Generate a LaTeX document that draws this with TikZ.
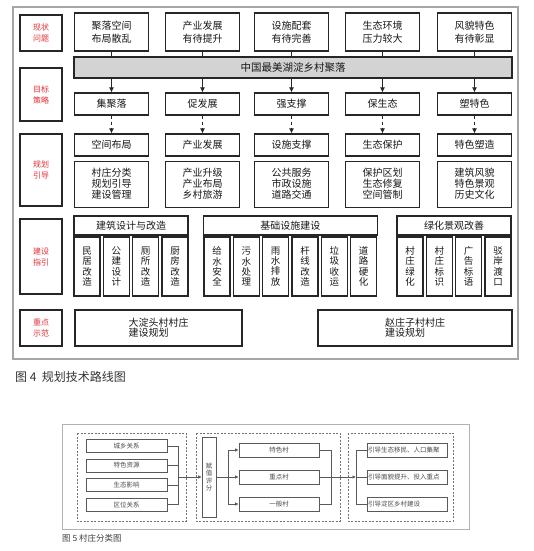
\documentclass[tikz,border=0pt]{standalone}
\usepackage{fontspec}
\setmainfont{Noto Sans CJK SC}
\usetikzlibrary{arrows.meta, positioning}
\definecolor{labelred}{HTML}{E5303A}
\definecolor{bargray}{HTML}{D3D3D3}
\definecolor{framegray}{HTML}{A6A6A6}

\begin{document}
\begin{tikzpicture}[
x=1pt, y=-1pt,
box/.style={
rectangle,
draw=black!85,
line width=1.1pt,
minimum width=74pt,
align=center,
inner sep=1pt,
text=black!90,
font=\fontsize{10}{11}\selectfont
},
lab/.style={
box,
minimum width=42pt,
text=labelred,
font=\fontsize{8}{11}\selectfont
},
prob/.style={box, minimum height=38pt, font=\fontsize{10}{13}\selectfont},
goal/.style={box, minimum height=22pt},
content/.style={box, minimum height=46pt},
group/.style={box, minimum height=19pt},
vbox/.style={box, minimum width=26pt, minimum height=59pt, font=\fontsize{9.5}{10.3}\selectfont},
demo/.style={box, minimum height=36pt, align=left, font=\fontsize{10}{9.8}\selectfont},
conn/.style={draw=black!85, line width=1.1pt},
arrow/.style={-{Latex[length=5pt,width=5pt]}, conn},
dasharrow/.style={arrow, dashed},
sbox/.style={
rectangle,
draw=black!65,
line width=0.7pt,
minimum width=80pt,
minimum height=14pt,
inner sep=1pt,
align=center,
text=black!70,
font=\fontsize{6.5}{7.5}\selectfont
},
sconn/.style={draw=black!65, line width=0.7pt},
sarrow/.style={-{Latex[length=3.5pt,width=3.5pt]}, sconn},
dgroup/.style={draw=black!55, line width=0.7pt, dash pattern=on 2pt off 1.5pt}
]
\useasboundingbox [fill=white] (0,0) rectangle (533,551);

% figure 4
\draw [framegray, line width=1.5pt] (13,7) rectangle (518,359);

\node (l1) [lab, minimum height=36pt] at (41,33) {现状\\问题};
\node (l2) [lab, minimum height=53pt] at (41,94.5) {目标\\策略};
\node (l3) [lab, minimum height=72pt] at (41,170) {规划\\引导};
\node (l4) [lab, minimum height=75pt] at (41,256.5) {建设\\指引};
\node (l5) [lab, minimum height=36pt] at (41,328) {重点\\示范};

\node (p1) [prob] at (111.5,32) {聚落空间\\布局散乱};
\node (p2) [prob] at (202.5,32) {产业发展\\有待提升};
\node (p3) [prob] at (291.5,32) {设施配套\\有待完善};
\node (p4) [prob] at (382.5,32) {生态环境\\压力较大};
\node (p5) [prob] at (474.5,32) {风貌特色\\有待彰显};

\node (bar) [box, fill=bargray, minimum width=438pt, minimum height=21pt,
font=\fontsize{10.5}{12}\selectfont] at (293,67.5) {中国最美湖淀乡村聚落};

\node (g1) [goal] at (111.5,104) {集聚落};
\node (g2) [goal] at (202.5,104) {促发展};
\node (g3) [goal] at (291.5,104) {强支撑};
\node (g4) [goal] at (382.5,104) {保生态};
\node (g5) [goal] at (474.5,104) {塑特色};

\node (h1) [goal] at (111.5,145) {空间布局};
\node (h2) [goal] at (202.5,145) {产业发展};
\node (h3) [goal] at (291.5,145) {设施支撑};
\node (h4) [goal] at (382.5,145) {生态保护};
\node (h5) [goal] at (474.5,145) {特色塑造};

\node (c1) [content, below=4pt of h1] {村庄分类\\规划引导\\建设管理};
\node (c2) [content, below=4pt of h2] {产业升级\\产业布局\\乡村旅游};
\node (c3) [content, below=4pt of h3] {公共服务\\市政设施\\道路交通};
\node (c4) [content, below=4pt of h4] {保护区划\\生态修复\\空间管制};
\node (c5) [content, below=4pt of h5] {建筑风貌\\特色景观\\历史文化};

\node (s1) [group, minimum width=114pt] at (131,225.5) {建筑设计与改造};
\node (s2) [group, minimum width=173.5pt] at (290.3,225.5) {基础设施建设};
\node (s3) [group, minimum width=114pt] at (454,225.5) {绿化景观改善};

\node (v1) [vbox] at (87,266.5) {民\\居\\改\\造};
\node (v2) [vbox] at (116.3,266.5) {公\\建\\设\\计};
\node (v3) [vbox] at (145.6,266.5) {厕\\所\\改\\造};
\node (v4) [vbox] at (175,266.5) {厨\\房\\改\\造};
\node (v5) [vbox] at (217,266.5) {给\\水\\安\\全};
\node (v6) [vbox] at (246.3,266.5) {污\\水\\处\\理};
\node (v7) [vbox] at (275.6,266.5) {雨\\水\\排\\放};
\node (v8) [vbox] at (305,266.5) {杆\\线\\改\\造};
\node (v9) [vbox] at (334.3,266.5) {垃\\圾\\收\\运};
\node (v10) [vbox] at (363.6,266.5) {道\\路\\硬\\化};
\node (v11) [vbox] at (410,266.5) {村\\庄\\绿\\化};
\node (v12) [vbox] at (439.3,266.5) {村\\庄\\标\\识};
\node (v13) [vbox] at (468.6,266.5) {广\\告\\标\\语};
\node (v14) [vbox] at (498,266.5) {驳\\岸\\渡\\口};

\node (d1) [demo, minimum width=167pt] at (158.5,328) {大淀头村村庄\\建设规划};
\node (d2) [demo, minimum width=194pt] at (415,328) {赵庄子村村庄\\建设规划};

\draw [conn] (p1) -- (p1 |- bar.north);
\draw [conn] (p2) -- (p2 |- bar.north);
\draw [conn] (p3) -- (p3 |- bar.north);
\draw [conn] (p4) -- (p4 |- bar.north);
\draw [conn] (p5) -- (p5 |- bar.north);

\draw [arrow] (g1 |- bar.south) -- (g1);
\draw [arrow] (g2 |- bar.south) -- (g2);
\draw [arrow] (g3 |- bar.south) -- (g3);
\draw [arrow] (g4 |- bar.south) -- (g4);
\draw [arrow] (g5 |- bar.south) -- (g5);

\draw [dasharrow] (g1) -- (h1);
\draw [dasharrow] (g2) -- (h2);
\draw [dasharrow] (g3) -- (h3);
\draw [dasharrow] (g4) -- (h4);
\draw [dasharrow] (g5) -- (h5);

\node (cap4) [anchor=west, inner sep=0pt, text=black!80,
font=\fontsize{12}{14}\selectfont] at (15,377) {图 4\ \ 规划技术路线图};

% figure 5
\draw [black!30, line width=1pt] (62,424) rectangle (469,529);
\draw [dgroup] (77,433) rectangle (186,521);
\draw [dgroup] (196,433) rectangle (340,521);
\draw [dgroup] (348,433) rectangle (453,521);

\node (f1) [sbox, minimum width=81pt, minimum height=13pt] at (126.5,446) {城乡关系};
\node (f2) [sbox, minimum width=81pt, minimum height=13pt] at (126.5,465.5) {特色资源};
\node (f3) [sbox, minimum width=81pt, minimum height=13pt] at (126.5,485) {生态影响};
\node (f4) [sbox, minimum width=81pt, minimum height=13pt] at (126.5,504.5) {区位关系};

\node (score) [sbox, minimum width=14pt, minimum height=80pt,
font=\fontsize{6.5}{7.6}\selectfont] at (209,477) {赋\\值\\评\\分};

\node (t1) [sbox] at (279,450) {特色村};
\node (t2) [sbox] at (279,477) {重点村};
\node (t3) [sbox] at (279,504) {一般村};

\node (r1) [sbox, text width=78pt, align=left] at (407,450) {引导生态移民、人口集聚};
\node (r2) [sbox, text width=78pt, align=left] at (407,477) {引导面貌提升、投入重点};
\node (r3) [sbox, text width=78pt, align=left] at (407,504) {引导淀区乡村建设};

\coordinate (j1) at (178,477);
\coordinate (j2) at (228,477);
\coordinate (j3) at (331,477);
\coordinate (j4) at (356,477);

\draw [sconn] (f1) -| (j1);
\draw [sconn] (f2) -| (j1);
\draw [sconn] (f3) -| (j1);
\draw [sconn] (f4) -| (j1);
\draw [sarrow] (j1) -- (score);

\draw [sconn] (score) -- (j2);
\draw [sarrow] (j2) |- (t1);
\draw [sarrow] (j2) -- (t2);
\draw [sarrow] (j2) |- (t3);

\draw [sconn] (t1) -| (j3);
\draw [sconn] (t2) -- (j3);
\draw [sconn] (t3) -| (j3);
\draw [sarrow] (j3) -- (j4);

\draw [sconn] (j4) |- (r1);
\draw [sconn] (j4) -- (r2);
\draw [sconn] (j4) |- (r3);

\node (cap5) [anchor=west, inner sep=0pt, text=black!75,
font=\fontsize{8.5}{10}\selectfont] at (62,538) {图 5\ 村庄分类图};

\end{tikzpicture}
\end{document}
